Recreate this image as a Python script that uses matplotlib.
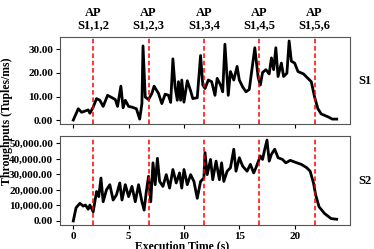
import matplotlib
matplotlib.use("Agg")
import matplotlib.pyplot as plt
from matplotlib.ticker import FuncFormatter

plt.rcParams['font.family'] = ['Liberation Serif', 'DejaVu Serif']
plt.rcParams['font.weight'] = 'bold'

t1 = [0, 0.45, 0.75, 1.05, 1.35, 1.5, 1.8, 2.1, 2.4, 2.7, 3.1, 3.5, 3.8, 4.0, 4.3, 4.5, 4.7, 5.0, 5.3, 5.7,
      6.0, 6.2, 6.3, 6.5, 6.8, 7.1, 7.3, 7.7, 8.0, 8.3, 8.6, 8.8, 9.0, 9.2, 9.4, 9.5, 9.7, 9.8, 10.0, 10.3,
      10.6, 10.8, 11.2, 11.5, 11.7, 11.9, 12.2, 12.5, 12.8, 13.0, 13.3, 13.5, 13.7, 14.0, 14.2, 14.5, 14.8, 15.0, 15.3, 15.6,
      15.9, 16.4, 16.7, 16.9, 17.1, 17.4, 17.7, 17.9, 18.1, 18.3, 18.5, 18.8, 19.0, 19.3, 19.5, 19.7, 20.0, 20.3, 20.8, 21.2,
      21.5, 21.8, 22.1, 22.4, 23.0, 23.4, 23.8]
s1 = [0, 4.8, 3.3, 3.8, 4.3, 2.9, 5.5, 9.1, 8.4, 5.8, 10.5, 9.5, 8.7, 5.8, 14.4, 5.2, 8.4, 5.8, 5.5, 4.8,
      0.4, 7.0, 31.5, 9.8, 8.7, 11.3, 14.4, 11.3, 7.0, 11.0, 10.5, 7.5, 26.0, 13.9, 8.4, 16.3, 8.4, 17.0, 7.6, 16.7,
      12.4, 9.1, 9.5, 27.4, 14.9, 13.4, 17.0, 16.3, 10.5, 17.7, 14.9, 12.0, 32.2, 10.5, 20.6, 17.0, 22.8, 17.0, 14.1, 12.0,
      13.0, 30.7, 18.2, 14.9, 20.2, 21.4, 19.6, 26.4, 21.4, 30.7, 18.5, 24.2, 18.5, 19.9, 33.6, 25.0, 24.2, 20.6, 19.6, 17.7,
      16.3, 9.8, 4.8, 2.6, 1.4, 0.4, 0.4]

t2 = [0, 0.25, 0.6, 0.9, 1.1, 1.35, 1.5, 1.8, 2.1, 2.3, 2.5, 2.7, 3.0, 3.3, 3.6, 3.9, 4.2, 4.4, 4.7, 5.0,
      5.3, 5.6, 5.9, 6.2, 6.4, 6.6, 6.8, 7.0, 7.2, 7.4, 7.6, 7.8, 8.1, 8.4, 8.7, 9.0, 9.3, 9.6, 9.8, 10.0,
      10.3, 10.6, 10.9, 11.2, 11.5, 11.8, 11.9, 12.1, 12.4, 12.6, 12.9, 13.2, 13.4, 13.6, 13.9, 14.2, 14.5, 14.7, 15.0, 15.3,
      15.7, 16.0, 16.3, 16.5, 16.9, 17.1, 17.3, 17.5, 17.7, 17.9, 18.2, 18.5, 18.9, 19.2, 19.6, 20.2, 20.6, 21.1, 21.4, 21.7,
      21.9, 22.2, 22.7, 23.3, 23.8]
s2 = [0, 8500, 11400, 9600, 10300, 7600, 10300, 5900, 19000, 15700, 27700, 12400, 20100, 23400, 13500, 16800, 24500, 13500, 23400, 15700,
      22300, 12400, 23400, 12400, 7000, 19000, 28800, 12400, 37500, 23400, 40400, 25500, 22300, 29900, 21200, 33200, 24500, 31000, 21200, 33200,
      23400, 29900, 25500, 14600, 25500, 27700, 44100, 29900, 39700, 26600, 38600, 26600, 37500, 25500, 32100, 34300, 46300, 32100, 40800, 35400,
      32100, 36500, 31000, 34300, 41900, 39700, 46300, 52200, 38600, 43000, 46300, 40800, 39700, 37500, 39100, 37500, 36500, 34300, 32100, 24500,
      16800, 9200, 4800, 1500, 1100]

ap_times = [1.8, 6.8, 11.8, 16.8, 21.8]
ap_labels = ["AP\nS1,1,2", "AP\nS1,2,3", "AP\nS1,3,4", "AP\nS1,4,5", "AP\nS1,5,6"]
x_ticks = [0, 5, 10, 15, 20]

fig = plt.figure(figsize=(3.74, 2.49), dpi=100)
ax1 = fig.add_axes([60/374, 1-124/249, 290/374, 87/249])
ax2 = fig.add_axes([60/374, 1-225/249, 290/374, 89/249])

fmt = FuncFormatter(lambda v, p: f"{v:,.2f}")
for ax, t, s, name in [(ax1, t1, s1, "S1"), (ax2, t2, s2, "S2")]:
    ax.plot(t, s, color='black', lw=2.0)
    for a in ap_times:
        ax.axvline(a, color='red', ls='--', lw=1.1, dashes=(3, 1.8))
    ax.set_xlim(-1.2, 25)
    ax.set_xticks(x_ticks)
    ax.yaxis.set_major_formatter(fmt)
    ax.tick_params(labelsize=8, length=3, width=0.8, pad=2)
    for lab in ax.get_xticklabels() + ax.get_yticklabels():
        lab.set_fontweight('bold')
    for sp in ax.spines.values():
        sp.set_color('#555555')
    ax.text(1.03, 0.5, name, transform=ax.transAxes, fontsize=9, fontweight='bold', va='center', ha='left')

ax1.set_yticks([0, 10, 20, 30])
ax1.set_xticklabels([])
ax2.set_yticks([0, 10000, 20000, 30000, 40000, 50000])

for a, l in zip(ap_times, ap_labels):
    ax1.text(a, 1.07, l, transform=ax1.get_xaxis_transform(), ha='center', va='bottom',
             fontsize=9, fontweight='bold', linespacing=1.0)

fig.text(182/374, 1-240/249, "Execution Time (s)", ha='center', va='top',
         fontsize=8.5, fontweight='bold')
fig.text(0.018, 1-121.5/249, "Throughputs (Tuples/ms)", rotation=90, ha='center', va='center',
         fontsize=8.5, fontweight='bold')

fig.savefig("out.png", dpi=100)
